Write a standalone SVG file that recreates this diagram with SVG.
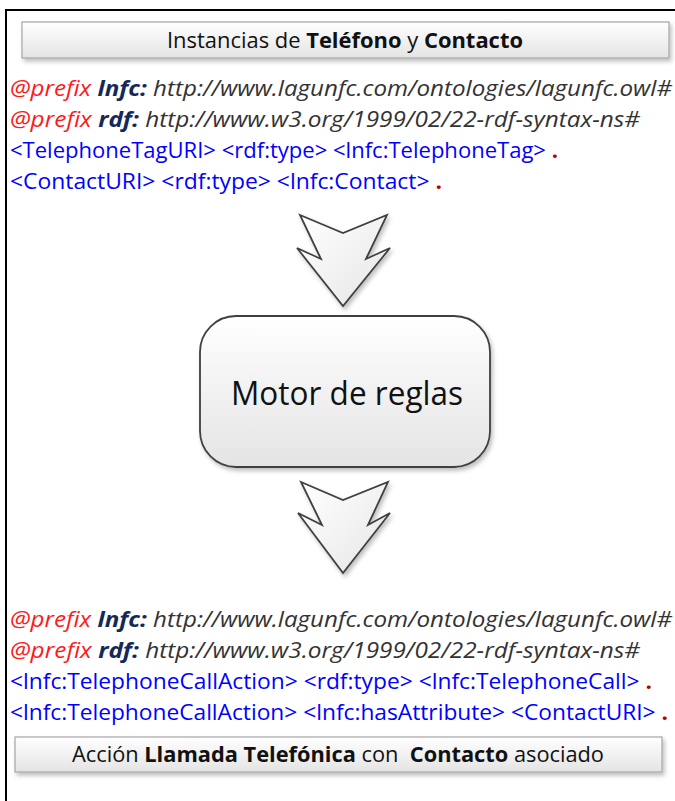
<svg xmlns="http://www.w3.org/2000/svg" width="675" height="801" viewBox="0 0 675 801">
<defs>
<linearGradient id="g" x1="0" y1="0" x2="0" y2="1">
<stop offset="0" stop-color="#ffffff"/>
<stop offset="1" stop-color="#e4e4e4"/>
</linearGradient>
<linearGradient id="ga" x1="0" y1="0" x2="1" y2="1">
<stop offset="0" stop-color="#ffffff"/>
<stop offset="1" stop-color="#e6e6e6"/>
</linearGradient>
<filter id="sh" x="-10%" y="-10%" width="130%" height="140%">
<feDropShadow dx="2" dy="3" stdDeviation="2" flood-color="#000" flood-opacity="0.25"/>
</filter>
</defs>
<style>
text{font-family:"Open Sans","Liberation Sans",Arial,sans-serif;}
.code{font-size:21.5px;}
.pre{fill:#ff1a1a;font-style:italic;}
.ns{fill:#14285a;font-style:italic;font-weight:bold;}
.url{fill:#333333;font-style:italic;}
.blue{fill:#0000ff;}
.dot{fill:#b00000;font-weight:bold;}
.title{font-size:21px;fill:#111;white-space:pre;}
.b{font-weight:bold;}
.box{fill:url(#g);stroke:#a6a6a6;stroke-width:1.2;}
.arrow{fill:url(#ga);stroke:#404040;stroke-width:1.8;stroke-linejoin:miter;}
</style>
<rect width="675" height="801" fill="#ffffff"/>
<path d="M6,801 V10 H675" fill="none" stroke="#000" stroke-width="2"/>

<g id="top-title">
<rect class="box" x="22" y="22" width="647" height="36" filter="url(#sh)"/>
<text class="title" x="345" y="48" text-anchor="middle" textLength="356" lengthAdjust="spacingAndGlyphs">Instancias de <tspan class="b">Teléfono</tspan> y <tspan class="b">Contacto</tspan></text>
</g>

<g id="top-code" class="code">
<text x="10" y="96" textLength="662" lengthAdjust="spacingAndGlyphs"><tspan class="pre">@prefix</tspan> <tspan class="ns">lnfc:</tspan> <tspan class="url">http://www.lagunfc.com/ontologies/lagunfc.owl#</tspan></text>
<text x="10" y="127" textLength="630" lengthAdjust="spacingAndGlyphs"><tspan class="pre">@prefix</tspan> <tspan class="ns">rdf:</tspan> <tspan class="url">http://www.w3.org/1999/02/22-rdf-syntax-ns#</tspan></text>
<text x="10" y="158" textLength="548" lengthAdjust="spacingAndGlyphs"><tspan class="blue">&lt;TelephoneTagURI&gt; &lt;rdf:type&gt; &lt;lnfc:TelephoneTag&gt;</tspan> <tspan class="dot">.</tspan></text>
<text x="10" y="189" textLength="432" lengthAdjust="spacingAndGlyphs"><tspan class="blue">&lt;ContactURI&gt; &lt;rdf:type&gt; &lt;lnfc:Contact&gt;</tspan> <tspan class="dot">.</tspan></text>
</g>

<g id="motor">
<rect x="200" y="316" width="290" height="151" rx="36" ry="36" fill="url(#g)" stroke="#404040" stroke-width="1.8" filter="url(#sh)"/>
<text x="347" y="405" text-anchor="middle" font-size="33" fill="#111" textLength="232" lengthAdjust="spacingAndGlyphs">Motor de reglas</text>
</g>

<g id="connectors">
<polygon class="arrow" filter="url(#sh)" points="300,215 343,233 387,215 366,259 390,248 343,306 297,248 321,259"/>
<polygon class="arrow" filter="url(#sh)" points="301,482 343,500 388,482 368,525 390,513 343,573 298,513 322,525"/>
</g>

<g id="bottom-code" class="code">
<text x="10" y="627" textLength="662" lengthAdjust="spacingAndGlyphs"><tspan class="pre">@prefix</tspan> <tspan class="ns">lnfc:</tspan> <tspan class="url">http://www.lagunfc.com/ontologies/lagunfc.owl#</tspan></text>
<text x="10" y="658" textLength="630" lengthAdjust="spacingAndGlyphs"><tspan class="pre">@prefix</tspan> <tspan class="ns">rdf:</tspan> <tspan class="url">http://www.w3.org/1999/02/22-rdf-syntax-ns#</tspan></text>
<text x="10" y="689" textLength="642" lengthAdjust="spacingAndGlyphs"><tspan class="blue">&lt;lnfc:TelephoneCallAction&gt; &lt;rdf:type&gt; &lt;lnfc:TelephoneCall&gt;</tspan> <tspan class="dot">.</tspan></text>
<text x="10" y="720" textLength="658" lengthAdjust="spacingAndGlyphs"><tspan class="blue">&lt;lnfc:TelephoneCallAction&gt; &lt;lnfc:hasAttribute&gt; &lt;ContactURI&gt;</tspan> <tspan class="dot">.</tspan></text>
</g>

<g id="bottom-title">
<rect class="box" x="15" y="737" width="647" height="35" filter="url(#sh)"/>
<text class="title" x="338" y="762" text-anchor="middle" textLength="532" lengthAdjust="spacingAndGlyphs">Acción <tspan class="b">Llamada Telefónica</tspan> con  <tspan class="b">Contacto</tspan> asociado</text>
</g>
</svg>
